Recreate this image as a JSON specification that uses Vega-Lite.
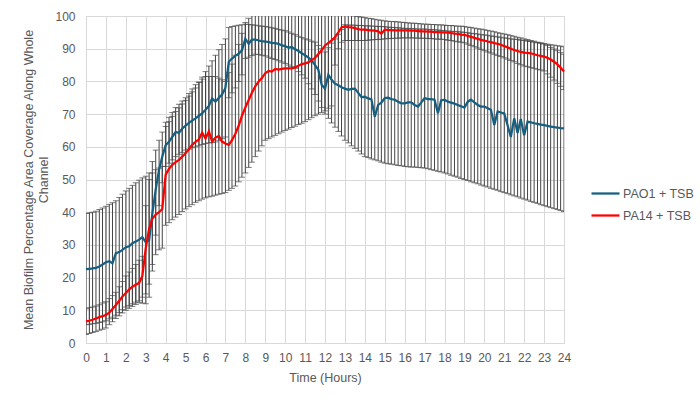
{
  "$schema": "https://vega.github.io/schema/vega-lite/v6.json",
  "width": 478,
  "height": 327,
  "autosize": {"type": "none"},
  "padding": {"left": 86, "top": 16, "right": 136, "bottom": 62},
  "background": "white",
  "config": {
    "font": "Liberation Sans",
    "view": {"stroke": "#d9d9d9"},
    "axisY": {
      "labelOverlap": false,
      "labelFlush": false,
      "grid": true,
      "gridColor": "#d9d9d9",
      "domain": false,
      "ticks": false,
      "labelColor": "#595959",
      "labelFontSize": 12,
      "labelPadding": 11,
      "titleColor": "#595959",
      "titleFontSize": 12.5,
      "titleFontWeight": "normal",
      "titleLineHeight": 15,
      "titlePadding": 4
    }
  },
  "datasets": {
    "pao1": [
      {"t":0,"m":22.6,"lo":5.6,"hi":39.6},{"t":0.17,"m":22.7,"lo":5.7,"hi":39.8},{"t":0.33,"m":22.8,"lo":5.9,"hi":40.0},{"t":0.5,"m":23.0,"lo":6.0,"hi":40.3},{"t":0.67,"m":23.4,"lo":6.3,"hi":40.8},{"t":0.83,"m":24.0,"lo":6.5,"hi":41.3},
      {"t":1,"m":24.7,"lo":6.8,"hi":41.8},{"t":1.17,"m":25.0,"lo":7.4,"hi":42.4},{"t":1.33,"m":24.4,"lo":7.9,"hi":42.9},{"t":1.5,"m":27.5,"lo":8.5,"hi":43.5},{"t":1.67,"m":27.8,"lo":9.3,"hi":44.5},{"t":1.83,"m":28.5,"lo":10.2,"hi":45.5},
      {"t":2,"m":29.3,"lo":11.0,"hi":46.5},{"t":2.17,"m":29.6,"lo":11.5,"hi":47.3},{"t":2.33,"m":30.5,"lo":12.0,"hi":48.2},{"t":2.5,"m":31.0,"lo":12.5,"hi":49.0},{"t":2.67,"m":31.6,"lo":12.3,"hi":49.8},{"t":2.83,"m":32.4,"lo":12.2,"hi":50.5},
      {"t":3,"m":30.8,"lo":12.0,"hi":51.0},{"t":3.17,"m":31.5,"lo":14.0,"hi":52.0},{"t":3.33,"m":39.5,"lo":22.0,"hi":55.5},{"t":3.5,"m":47.0,"lo":33.0,"hi":59.0},{"t":3.67,"m":53.0,"lo":42.0,"hi":62.0},{"t":3.83,"m":57.0,"lo":49.0,"hi":64.5},
      {"t":4,"m":60.5,"lo":54.0,"hi":66.2},{"t":4.17,"m":61.5,"lo":55.0,"hi":67.7},{"t":4.33,"m":63.0,"lo":56.0,"hi":69.3},{"t":4.5,"m":64.5,"lo":57.0,"hi":70.8},{"t":4.67,"m":64.3,"lo":57.7,"hi":71.9},{"t":4.83,"m":65.5,"lo":58.3,"hi":73.1},
      {"t":5,"m":66.5,"lo":59.0,"hi":74.2},{"t":5.17,"m":67.3,"lo":59.3,"hi":75.5},{"t":5.33,"m":68.0,"lo":59.7,"hi":76.8},{"t":5.5,"m":68.7,"lo":60.0,"hi":78.0},{"t":5.67,"m":69.5,"lo":60.3,"hi":79.7},{"t":5.83,"m":70.2,"lo":60.7,"hi":81.3},
      {"t":6,"m":71.3,"lo":61.0,"hi":83.0},{"t":6.17,"m":72.5,"lo":61.2,"hi":84.7},{"t":6.33,"m":74.8,"lo":61.3,"hi":86.3},{"t":6.5,"m":73.8,"lo":61.5,"hi":88.0},{"t":6.67,"m":75.0,"lo":62.0,"hi":89.7},{"t":6.83,"m":76.0,"lo":62.5,"hi":91.3},
      {"t":7,"m":78.0,"lo":63.0,"hi":93.0},{"t":7.17,"m":86.0,"lo":75.0,"hi":96.5},{"t":7.33,"m":87.0,"lo":76.5,"hi":96.8},{"t":7.5,"m":87.8,"lo":78.0,"hi":97.0},{"t":7.67,"m":88.5,"lo":80.0,"hi":97.2},{"t":7.83,"m":89.5,"lo":82.0,"hi":97.3},
      {"t":8,"m":93.0,"lo":87.0,"hi":97.5},{"t":8.17,"m":91.5,"lo":87.4,"hi":97.4},{"t":8.33,"m":92.8,"lo":87.9,"hi":97.3},{"t":8.5,"m":92.8,"lo":88.3,"hi":97.2},{"t":8.67,"m":92.5,"lo":88.2,"hi":97.0},{"t":8.83,"m":92.3,"lo":88.0,"hi":96.9},
      {"t":9,"m":92.2,"lo":87.8,"hi":96.8},{"t":9.17,"m":92.0,"lo":87.4,"hi":96.6},{"t":9.33,"m":91.8,"lo":87.0,"hi":96.4},{"t":9.5,"m":91.7,"lo":86.7,"hi":96.2},{"t":9.67,"m":91.5,"lo":86.3,"hi":95.9},{"t":9.83,"m":91.0,"lo":85.9,"hi":95.7},
      {"t":10,"m":90.8,"lo":85.5,"hi":95.5},{"t":10.17,"m":90.3,"lo":85.0,"hi":95.1},{"t":10.33,"m":90.5,"lo":84.5,"hi":94.7},{"t":10.5,"m":89.8,"lo":84.0,"hi":94.3},{"t":10.67,"m":89.3,"lo":83.0,"hi":93.8},{"t":10.83,"m":88.6,"lo":82.0,"hi":93.4},
      {"t":11,"m":88.0,"lo":81.0,"hi":93.0},{"t":11.17,"m":87.3,"lo":79.3,"hi":92.7},{"t":11.33,"m":86.5,"lo":77.7,"hi":92.3},{"t":11.5,"m":85.0,"lo":76.0,"hi":92.0},{"t":11.67,"m":83.5,"lo":74.0,"hi":91.0},{"t":11.83,"m":79.0,"lo":72.0,"hi":90.0},
      {"t":12,"m":77.8,"lo":70.0,"hi":89.0},{"t":12.17,"m":82.0,"lo":68.7,"hi":90.3},{"t":12.33,"m":80.5,"lo":67.3,"hi":91.7},{"t":12.5,"m":79.3,"lo":66.0,"hi":93.0},{"t":12.67,"m":78.8,"lo":64.7,"hi":94.4},{"t":12.83,"m":78.2,"lo":63.3,"hi":95.9},
      {"t":13,"m":77.8,"lo":62.0,"hi":97.3},{"t":13.17,"m":77.4,"lo":61.2,"hi":97.2},{"t":13.33,"m":77.7,"lo":60.3,"hi":97.2},{"t":13.5,"m":77.8,"lo":59.5,"hi":97.2},{"t":13.67,"m":76.5,"lo":58.7,"hi":97.1},{"t":13.83,"m":75.2,"lo":57.8,"hi":97.1},
      {"t":14,"m":75.3,"lo":57.0,"hi":97.0},{"t":14.17,"m":74.8,"lo":56.7,"hi":97.0},{"t":14.33,"m":74.5,"lo":56.3,"hi":96.9},{"t":14.5,"m":69.2,"lo":56.0,"hi":96.9},{"t":14.67,"m":72.8,"lo":55.7,"hi":96.8},{"t":14.83,"m":73.5,"lo":55.3,"hi":96.8},
      {"t":15,"m":74.9,"lo":55.0,"hi":96.7},{"t":15.17,"m":75.0,"lo":54.8,"hi":96.6},{"t":15.33,"m":74.6,"lo":54.7,"hi":96.5},{"t":15.5,"m":74.4,"lo":54.5,"hi":96.5},{"t":15.67,"m":73.8,"lo":54.3,"hi":96.4},{"t":15.83,"m":73.3,"lo":54.2,"hi":96.3},
      {"t":16,"m":73.3,"lo":54.0,"hi":96.2},{"t":16.17,"m":73.6,"lo":53.9,"hi":96.2},{"t":16.33,"m":73.6,"lo":53.8,"hi":96.1},{"t":16.5,"m":72.8,"lo":53.8,"hi":96.1},{"t":16.67,"m":72.3,"lo":53.7,"hi":96.0},{"t":16.83,"m":73.5,"lo":53.6,"hi":96.0},
      {"t":17,"m":74.9,"lo":53.5,"hi":96.0},{"t":17.17,"m":74.6,"lo":53.3,"hi":95.9},{"t":17.33,"m":74.6,"lo":53.0,"hi":95.8},{"t":17.5,"m":74.4,"lo":52.8,"hi":95.8},{"t":17.67,"m":70.3,"lo":52.5,"hi":95.7},{"t":17.83,"m":74.2,"lo":52.3,"hi":95.6},
      {"t":18,"m":74.4,"lo":52.0,"hi":95.5},{"t":18.17,"m":73.8,"lo":51.7,"hi":95.4},{"t":18.33,"m":73.5,"lo":51.3,"hi":95.3},{"t":18.5,"m":73.2,"lo":51.0,"hi":95.3},{"t":18.67,"m":72.8,"lo":50.7,"hi":95.2},{"t":18.83,"m":72.4,"lo":50.3,"hi":95.1},
      {"t":19,"m":72.0,"lo":50.0,"hi":95.0},{"t":19.17,"m":73.8,"lo":49.7,"hi":94.9},{"t":19.33,"m":74.4,"lo":49.3,"hi":94.7},{"t":19.5,"m":73.6,"lo":49.0,"hi":94.6},{"t":19.67,"m":72.8,"lo":48.7,"hi":94.5},{"t":19.83,"m":72.3,"lo":48.3,"hi":94.3},
      {"t":20,"m":72.3,"lo":48.0,"hi":94.2},{"t":20.17,"m":71.8,"lo":47.7,"hi":94.1},{"t":20.33,"m":71.3,"lo":47.3,"hi":93.9},{"t":20.5,"m":66.7,"lo":47.0,"hi":93.8},{"t":20.67,"m":70.8,"lo":46.7,"hi":93.6},{"t":20.83,"m":70.5,"lo":46.3,"hi":93.5},
      {"t":21,"m":70.2,"lo":46.0,"hi":93.3},{"t":21.17,"m":66.5,"lo":45.7,"hi":93.2},{"t":21.33,"m":63.0,"lo":45.3,"hi":93.0},{"t":21.5,"m":68.7,"lo":45.0,"hi":92.9},{"t":21.67,"m":64.2,"lo":44.7,"hi":92.8},{"t":21.83,"m":68.5,"lo":44.3,"hi":92.6},
      {"t":22,"m":63.5,"lo":44.0,"hi":92.5},{"t":22.17,"m":67.7,"lo":43.7,"hi":92.3},{"t":22.33,"m":67.5,"lo":43.3,"hi":92.2},{"t":22.5,"m":67.2,"lo":43.0,"hi":92.0},{"t":22.67,"m":67.0,"lo":42.7,"hi":91.8},{"t":22.83,"m":66.8,"lo":42.3,"hi":91.7},
      {"t":23,"m":66.6,"lo":42.0,"hi":91.5},{"t":23.17,"m":66.4,"lo":41.7,"hi":91.4},{"t":23.33,"m":66.2,"lo":41.4,"hi":91.2},{"t":23.5,"m":66.0,"lo":41.1,"hi":91.1},{"t":23.67,"m":65.9,"lo":40.8,"hi":90.9},{"t":23.83,"m":65.7,"lo":40.5,"hi":90.8},
      {"t":24,"m":65.6,"lo":40.2,"hi":90.6}
    ],
    "pa14": [
      {"t":0,"m":6.6,"lo":2.6,"hi":10.5},{"t":0.17,"m":6.8,"lo":2.9,"hi":10.8},{"t":0.33,"m":7.1,"lo":3.2,"hi":11.0},{"t":0.5,"m":7.5,"lo":3.5,"hi":11.3},{"t":0.67,"m":7.9,"lo":3.9,"hi":11.7},{"t":0.83,"m":8.2,"lo":4.2,"hi":12.2},
      {"t":1,"m":8.6,"lo":4.6,"hi":12.6},{"t":1.17,"m":9.3,"lo":5.6,"hi":13.6},{"t":1.33,"m":10.4,"lo":6.5,"hi":14.5},{"t":1.5,"m":11.6,"lo":7.5,"hi":15.5},{"t":1.67,"m":12.9,"lo":8.3,"hi":17.2},{"t":1.83,"m":14.2,"lo":9.2,"hi":18.8},
      {"t":2,"m":15.3,"lo":10.0,"hi":20.5},{"t":2.17,"m":16.4,"lo":10.6,"hi":21.7},{"t":2.33,"m":17.2,"lo":11.2,"hi":22.8},{"t":2.5,"m":17.8,"lo":11.8,"hi":24.0},{"t":2.67,"m":18.4,"lo":12.9,"hi":25.3},{"t":2.83,"m":20.5,"lo":14.0,"hi":26.5},
      {"t":3,"m":29.0,"lo":15.0,"hi":42.0},{"t":3.17,"m":35.0,"lo":18.0,"hi":50.0},{"t":3.33,"m":38.0,"lo":24.0,"hi":52.0},{"t":3.5,"m":39.3,"lo":27.0,"hi":53.0},{"t":3.67,"m":40.0,"lo":28.5,"hi":53.5},{"t":3.83,"m":41.0,"lo":29.0,"hi":54.0},
      {"t":4,"m":51.5,"lo":36.0,"hi":67.5},{"t":4.17,"m":53.3,"lo":36.8,"hi":69.0},{"t":4.33,"m":54.5,"lo":37.7,"hi":70.5},{"t":4.5,"m":55.3,"lo":38.5,"hi":72.0},{"t":4.67,"m":56.0,"lo":39.3,"hi":73.0},{"t":4.83,"m":57.0,"lo":40.2,"hi":74.0},
      {"t":5,"m":58.0,"lo":41.0,"hi":75.0},{"t":5.17,"m":59.3,"lo":41.7,"hi":76.3},{"t":5.33,"m":60.6,"lo":42.3,"hi":77.7},{"t":5.5,"m":61.5,"lo":43.0,"hi":79.0},{"t":5.67,"m":62.3,"lo":43.5,"hi":79.8},{"t":5.83,"m":64.3,"lo":44.0,"hi":80.7},
      {"t":6,"m":62.5,"lo":44.4,"hi":81.5},{"t":6.17,"m":64.7,"lo":44.7,"hi":81.5},{"t":6.33,"m":61.6,"lo":44.9,"hi":81.5},{"t":6.5,"m":62.8,"lo":45.2,"hi":81.5},{"t":6.67,"m":63.3,"lo":45.5,"hi":81.0},{"t":6.83,"m":61.6,"lo":45.7,"hi":80.5},
      {"t":7,"m":61.0,"lo":46.0,"hi":80.0},{"t":7.17,"m":60.6,"lo":46.7,"hi":82.7},{"t":7.33,"m":62.0,"lo":47.3,"hi":85.3},{"t":7.5,"m":64.0,"lo":48.0,"hi":88.0},{"t":7.67,"m":66.5,"lo":49.3,"hi":91.3},{"t":7.83,"m":69.5,"lo":50.7,"hi":94.7},
      {"t":8,"m":72.0,"lo":52.0,"hi":98.0},{"t":8.17,"m":74.3,"lo":53.7,"hi":99.3},{"t":8.33,"m":76.5,"lo":55.3,"hi":100.7},{"t":8.5,"m":78.5,"lo":57.0,"hi":102.0},{"t":8.67,"m":80.0,"lo":58.7,"hi":102.3},{"t":8.83,"m":81.0,"lo":60.3,"hi":102.7},
      {"t":9,"m":82.5,"lo":62.0,"hi":103},{"t":9.17,"m":83.2,"lo":62.5,"hi":103},{"t":9.33,"m":83.0,"lo":63.0,"hi":103},{"t":9.5,"m":83.8,"lo":63.5,"hi":103},{"t":9.67,"m":83.6,"lo":64.0,"hi":103},{"t":9.83,"m":83.8,"lo":64.5,"hi":103},
      {"t":10,"m":84.0,"lo":65.0,"hi":103},{"t":10.17,"m":84.0,"lo":65.4,"hi":103},{"t":10.33,"m":84.0,"lo":65.9,"hi":103},{"t":10.5,"m":84.3,"lo":66.3,"hi":103},{"t":10.67,"m":84.8,"lo":66.8,"hi":103},{"t":10.83,"m":85.3,"lo":67.2,"hi":103},
      {"t":11,"m":85.5,"lo":67.7,"hi":103},{"t":11.17,"m":85.8,"lo":68.3,"hi":103},{"t":11.33,"m":86.5,"lo":68.9,"hi":103},{"t":11.5,"m":87.2,"lo":69.5,"hi":103},{"t":11.67,"m":88.4,"lo":70.0,"hi":103},{"t":11.83,"m":89.5,"lo":70.5,"hi":103},
      {"t":12,"m":91.0,"lo":71.0,"hi":103},{"t":12.17,"m":91.8,"lo":71.8,"hi":103},{"t":12.33,"m":92.5,"lo":72.5,"hi":103},{"t":12.5,"m":93.5,"lo":85.0,"hi":103},{"t":12.67,"m":95.0,"lo":90.0,"hi":102},{"t":12.83,"m":96.5,"lo":92.0,"hi":101},
      {"t":13,"m":96.8,"lo":92.5,"hi":100.5},{"t":13.17,"m":96.6,"lo":92.5,"hi":100.3},{"t":13.33,"m":96.5,"lo":92.5,"hi":100.2},{"t":13.5,"m":96.3,"lo":92.5,"hi":100.0},{"t":13.67,"m":96.0,"lo":92.5,"hi":99.8},{"t":13.83,"m":95.8,"lo":92.5,"hi":99.7},
      {"t":14,"m":95.8,"lo":92.5,"hi":99.5},{"t":14.17,"m":95.7,"lo":92.6,"hi":99.3},{"t":14.33,"m":95.6,"lo":92.7,"hi":99.2},{"t":14.5,"m":95.5,"lo":92.8,"hi":99.0},{"t":14.67,"m":95.3,"lo":92.8,"hi":98.8},{"t":14.83,"m":94.6,"lo":92.9,"hi":98.7},
      {"t":15,"m":95.8,"lo":93.0,"hi":98.5},{"t":15.17,"m":95.7,"lo":93.1,"hi":98.4},{"t":15.33,"m":95.7,"lo":93.1,"hi":98.3},{"t":15.5,"m":95.6,"lo":93.2,"hi":98.3},{"t":15.67,"m":95.6,"lo":93.2,"hi":98.2},{"t":15.83,"m":95.6,"lo":93.3,"hi":98.1},
      {"t":16,"m":95.6,"lo":93.3,"hi":98.0},{"t":16.17,"m":95.6,"lo":93.3,"hi":97.9},{"t":16.33,"m":95.5,"lo":93.3,"hi":97.8},{"t":16.5,"m":95.5,"lo":93.3,"hi":97.8},{"t":16.67,"m":95.4,"lo":93.2,"hi":97.7},{"t":16.83,"m":95.3,"lo":93.2,"hi":97.6},
      {"t":17,"m":95.3,"lo":93.2,"hi":97.5},{"t":17.17,"m":95.2,"lo":93.1,"hi":97.5},{"t":17.33,"m":95.2,"lo":93.1,"hi":97.4},{"t":17.5,"m":95.1,"lo":93.0,"hi":97.4},{"t":17.67,"m":95.1,"lo":92.9,"hi":97.3},{"t":17.83,"m":95.0,"lo":92.9,"hi":97.3},
      {"t":18,"m":95.0,"lo":92.8,"hi":97.2},{"t":18.17,"m":94.9,"lo":92.6,"hi":97.1},{"t":18.33,"m":94.8,"lo":92.5,"hi":97.1},{"t":18.5,"m":94.6,"lo":92.3,"hi":97.0},{"t":18.67,"m":94.5,"lo":92.1,"hi":96.9},{"t":18.83,"m":94.3,"lo":92.0,"hi":96.9},
      {"t":19,"m":94.2,"lo":91.8,"hi":96.8},{"t":19.17,"m":93.9,"lo":91.4,"hi":96.6},{"t":19.33,"m":93.6,"lo":91.0,"hi":96.5},{"t":19.5,"m":93.3,"lo":90.6,"hi":96.3},{"t":19.67,"m":93.0,"lo":90.2,"hi":96.1},{"t":19.83,"m":92.7,"lo":89.8,"hi":96.0},
      {"t":20,"m":92.5,"lo":89.4,"hi":95.8},{"t":20.17,"m":92.2,"lo":89.0,"hi":95.6},{"t":20.33,"m":92.0,"lo":88.7,"hi":95.4},{"t":20.5,"m":91.7,"lo":88.3,"hi":95.2},{"t":20.67,"m":91.5,"lo":87.9,"hi":94.9},{"t":20.83,"m":91.2,"lo":87.6,"hi":94.7},
      {"t":21,"m":90.8,"lo":87.2,"hi":94.5},{"t":21.17,"m":90.4,"lo":86.8,"hi":94.3},{"t":21.33,"m":90.0,"lo":86.4,"hi":94.0},{"t":21.5,"m":89.6,"lo":86.0,"hi":93.8},{"t":21.67,"m":89.3,"lo":85.5,"hi":93.5},{"t":21.83,"m":89.0,"lo":85.1,"hi":93.3},
      {"t":22,"m":88.8,"lo":84.7,"hi":93.0},{"t":22.17,"m":88.7,"lo":84.5,"hi":92.8},{"t":22.33,"m":88.6,"lo":84.2,"hi":92.5},{"t":22.5,"m":88.3,"lo":84.0,"hi":92.3},{"t":22.67,"m":88.0,"lo":83.7,"hi":92.0},{"t":22.83,"m":87.8,"lo":83.5,"hi":91.8},
      {"t":23,"m":87.6,"lo":83.2,"hi":91.5},{"t":23.17,"m":87.2,"lo":82.3,"hi":91.0},{"t":23.33,"m":86.7,"lo":81.3,"hi":90.4},{"t":23.5,"m":86.0,"lo":80.4,"hi":89.9},{"t":23.67,"m":85.2,"lo":79.4,"hi":89.4},{"t":23.83,"m":84.2,"lo":78.5,"hi":88.8},
      {"t":24,"m":83.0,"lo":77.5,"hi":88.3}
    ]
  },
  "encoding": {
    "x": {
      "field": "t",
      "type": "quantitative",
      "scale": {"domain": [0, 24], "nice": false},
      "axis": {
        "title": "Time (Hours)",
        "values": [0,1,2,3,4,5,6,7,8,9,10,11,12,13,14,15,16,17,18,19,20,21,22,23,24],
        "format": "d",
        "labelOverlap": false,
        "labelFlush": false,
        "grid": true,
        "gridColor": "#d9d9d9",
        "domainColor": "#d9d9d9",
        "ticks": false,
        "labelColor": "#595959",
        "labelFontSize": 12,
        "labelPadding": 9,
        "titleColor": "#595959",
        "titleFontSize": 12.5,
        "titleFontWeight": "normal",
        "titlePadding": 8
      }
    }
  },
  "layer": [
    {
      "data": {"name": "pao1"},
      "mark": {"type": "rule", "color": "#444444", "strokeWidth": 1, "clip": true},
      "encoding": {
        "y": {
          "field": "lo", "type": "quantitative",
          "scale": {"domain": [0, 100], "nice": false},
          "axis": {"title": ["Mean Biofilm Percentage Area Coverage Along Whole", "Channel"], "values": [0,10,20,30,40,50,60,70,80,90,100]}
        },
        "y2": {"field": "hi"}
      }
    },
    {
      "data": {"name": "pao1"},
      "mark": {"type": "tick", "orient": "horizontal", "color": "#444444", "thickness": 1, "size": 6, "clip": true},
      "encoding": {
        "y": {"field": "lo", "type": "quantitative", "axis": {"title": ["Mean Biofilm Percentage Area Coverage Along Whole", "Channel"], "values": [0,10,20,30,40,50,60,70,80,90,100]}}
      }
    },
    {
      "data": {"name": "pao1"},
      "mark": {"type": "tick", "orient": "horizontal", "color": "#444444", "thickness": 1, "size": 6, "clip": true},
      "encoding": {
        "y": {"field": "hi", "type": "quantitative", "axis": {"title": ["Mean Biofilm Percentage Area Coverage Along Whole", "Channel"], "values": [0,10,20,30,40,50,60,70,80,90,100]}}
      }
    },
    {
      "data": {"name": "pa14"},
      "mark": {"type": "rule", "color": "#444444", "strokeWidth": 1, "clip": true},
      "encoding": {
        "y": {"field": "lo", "type": "quantitative", "axis": {"title": ["Mean Biofilm Percentage Area Coverage Along Whole", "Channel"], "values": [0,10,20,30,40,50,60,70,80,90,100]}},
        "y2": {"field": "hi"}
      }
    },
    {
      "data": {"name": "pa14"},
      "mark": {"type": "tick", "orient": "horizontal", "color": "#444444", "thickness": 1, "size": 6, "clip": true},
      "encoding": {
        "y": {"field": "lo", "type": "quantitative", "axis": {"title": ["Mean Biofilm Percentage Area Coverage Along Whole", "Channel"], "values": [0,10,20,30,40,50,60,70,80,90,100]}}
      }
    },
    {
      "data": {"name": "pa14"},
      "mark": {"type": "tick", "orient": "horizontal", "color": "#444444", "thickness": 1, "size": 6, "clip": true},
      "encoding": {
        "y": {"field": "hi", "type": "quantitative", "axis": {"title": ["Mean Biofilm Percentage Area Coverage Along Whole", "Channel"], "values": [0,10,20,30,40,50,60,70,80,90,100]}}
      }
    },
    {
      "data": {"name": "pao1"},
      "mark": {"type": "line", "strokeWidth": 2.25},
      "encoding": {
        "y": {"field": "m", "type": "quantitative", "axis": {"title": ["Mean Biofilm Percentage Area Coverage Along Whole", "Channel"], "values": [0,10,20,30,40,50,60,70,80,90,100]}},
        "color": {
          "datum": "PAO1 + TSB",
          "scale": {"domain": ["PAO1 + TSB", "PA14 + TSB"], "range": ["#156082", "#ff0000"]},
          "legend": {
            "orient": "none",
            "legendX": 504,
            "legendY": 162,
            "title": null,
            "symbolType": "stroke",
            "symbolSize": 784,
            "symbolStrokeWidth": 2.25,
            "labelFontSize": 12.5,
            "labelColor": "#595959",
            "labelOffset": 2,
            "rowPadding": 0
          }
        }
      }
    },
    {
      "data": {"name": "pa14"},
      "mark": {"type": "line", "strokeWidth": 2.25},
      "encoding": {
        "y": {"field": "m", "type": "quantitative", "axis": {"title": ["Mean Biofilm Percentage Area Coverage Along Whole", "Channel"], "values": [0,10,20,30,40,50,60,70,80,90,100]}},
        "color": {"datum": "PA14 + TSB"}
      }
    }
  ]
}
